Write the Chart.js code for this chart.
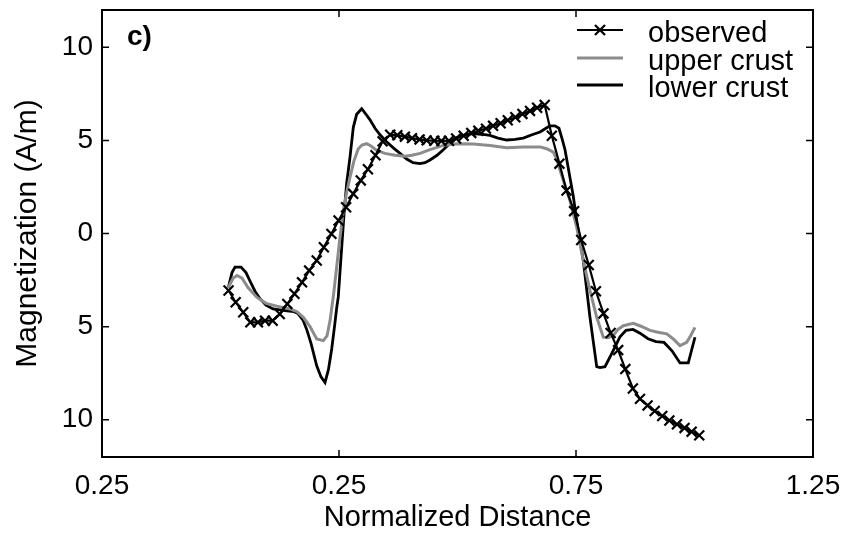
<!DOCTYPE html>
<html><head><meta charset="utf-8">
<script src="https://cdn.jsdelivr.net/npm/chart.js@4.4.0/dist/chart.umd.min.js"></script>
<style>html,body{margin:0;padding:0;background:#fff;}</style>
</head><body>
<canvas id="c" width="846" height="535"></canvas>
<script>
const seriesNames = ['observed', 'upper crust', 'lower crust'];
const panelLabel = 'c)';
const xTitle = 'Normalized Distance';
const yTitle = 'Magnetization (A/m)';
const xTickValues = [-0.25, 0.25, 0.75, 1.25];
const xTickLabels = ['0.25', '0.25', '0.75', '1.25'];
const yTickValues = [-10, -5, 0, 5, 10];
const yTickLabels = ['10', '5', '0', '5', '10'];

const obsX = [0.017,0.032,0.048,0.063,0.079,0.094,0.110,0.125,0.141,0.156,0.172,0.187,0.203,0.218,0.234,0.249,0.265,0.280,0.296,0.311,0.327,0.342,0.358,0.373,0.389,0.404,0.420,0.435,0.451,0.466,0.482,0.497,0.513,0.529,0.544,0.560,0.575,0.591,0.606,0.622,0.637,0.653,0.668,0.684,0.699,0.715,0.730,0.746,0.761,0.777,0.792,0.808,0.823,0.839,0.854,0.870,0.885,0.901,0.916,0.932,0.947,0.963,0.979,0.994,1.010];
const obsY = [-3.06,-3.69,-4.23,-4.77,-4.77,-4.68,-4.68,-4.32,-3.78,-3.24,-2.62,-1.99,-1.45,-0.74,-0.02,0.70,1.41,2.13,2.85,3.45,4.2,4.95,5.3,5.28,5.2,5.12,5.05,5.0,4.98,4.97,4.98,5.1,5.25,5.4,5.52,5.63,5.78,5.92,6.08,6.24,6.42,6.58,6.75,6.9,5.25,3.75,2.31,1.2,-0.35,-1.69,-3.1,-4.29,-5.34,-6.26,-7.28,-8.32,-8.88,-9.23,-9.53,-9.8,-10.04,-10.24,-10.44,-10.64,-10.84];

const upperX = [0.0165,0.0264,0.0348,0.0454,0.058,0.0764,0.096,0.1186,0.1466,0.1614,0.1747,0.1888,0.203,0.2169,0.2247,0.2311,0.2384,0.2451,0.2521,0.2591,0.2662,0.2732,0.2816,0.2907,0.2985,0.3084,0.3175,0.3295,0.347,0.3681,0.3892,0.404,0.4209,0.442,0.4701,0.4983,0.5333,0.5686,0.6038,0.6388,0.6741,0.6882,0.7021,0.7093,0.7162,0.7232,0.7373,0.7515,0.7654,0.7795,0.7937,0.8076,0.8175,0.8287,0.8386,0.8498,0.8709,0.8871,0.9061,0.923,0.9414,0.9546,0.9694,0.9835,0.9915,1.001];
const upperY = [-2.9,-2.4,-2.25,-2.4,-2.9,-3.42,-3.75,-3.9,-4.05,-4.2,-4.5,-5.0,-5.66,-5.75,-5.5,-4.68,-3.3,-1.8,-0.2,1.24,2.2,3.03,3.9,4.55,4.75,4.82,4.7,4.46,4.3,4.2,4.15,4.2,4.3,4.5,4.73,4.82,4.8,4.73,4.6,4.64,4.65,4.55,4.37,4.0,3.4,2.85,1.77,0.34,-1.45,-3.06,-4.5,-5.57,-5.6,-5.48,-5.15,-4.95,-4.82,-4.98,-5.2,-5.3,-5.39,-5.65,-6.02,-5.84,-5.5,-5.04];

const lowerX = [0.0165,0.0243,0.0306,0.0432,0.0538,0.0622,0.0728,0.0833,0.096,0.1108,0.1255,0.1403,0.1551,0.1635,0.1741,0.1825,0.191,0.203,0.212,0.2205,0.2278,0.2346,0.2405,0.2451,0.2485,0.2557,0.2605,0.2662,0.2732,0.2802,0.2873,0.2979,0.307,0.3154,0.326,0.3365,0.3492,0.3646,0.3787,0.3928,0.4061,0.4209,0.4315,0.442,0.4568,0.4701,0.4842,0.4983,0.5158,0.5333,0.5496,0.5686,0.5854,0.6038,0.6213,0.6388,0.6572,0.6741,0.6867,0.6951,0.7057,0.7141,0.7205,0.7268,0.7373,0.7443,0.7515,0.7654,0.7795,0.7937,0.8006,0.8112,0.8253,0.8428,0.8555,0.8703,0.885,0.9019,0.9188,0.9357,0.9525,0.9694,0.9869,1.001];
const lowerY = [-2.9,-2.1,-1.8,-1.8,-2.1,-2.55,-3.1,-3.5,-3.85,-4.05,-4.1,-4.15,-4.2,-4.3,-4.65,-5.2,-5.9,-7.1,-7.7,-8.0,-7.3,-6.2,-5.0,-4.0,-3.4,-0.74,1.0,2.7,4.1,5.7,6.4,6.7,6.4,6.1,5.65,5.3,4.95,4.6,4.3,4.0,3.8,3.75,3.8,3.95,4.2,4.5,4.85,5.15,5.3,5.36,5.33,5.27,5.12,5.02,5.05,5.12,5.3,5.45,5.65,5.78,5.78,5.65,5.1,4.5,3.0,2.0,0.7,-1.45,-4.5,-7.15,-7.2,-7.15,-6.45,-5.55,-5.2,-5.15,-5.35,-5.65,-5.8,-5.85,-6.3,-6.95,-6.95,-5.57];

const FONT = '"Liberation Sans", Arial, Helvetica, sans-serif';
Chart.defaults.font.family = FONT;
Chart.defaults.color = '#000';

const toPts = (xs, ys) => xs.map((x, i) => ({x: x, y: ys[i]}));

const decor = {
  id: 'decor',
  afterDraw(chart) {
    const {ctx, chartArea: a, scales: {x, y}} = chart;
    ctx.save();
    ctx.strokeStyle = '#000';
    ctx.lineWidth = 2;
    ctx.strokeRect(a.left, a.top, a.right - a.left, a.bottom - a.top);
    ctx.lineWidth = 1.5;
    ctx.beginPath();
    yTickValues.forEach(v => {
      const py = y.getPixelForValue(v);
      ctx.moveTo(a.left, py); ctx.lineTo(a.left + 7, py);
      ctx.moveTo(a.right, py); ctx.lineTo(a.right - 7, py);
    });
    xTickValues.forEach(v => {
      const px = x.getPixelForValue(v);
      ctx.moveTo(px, a.bottom); ctx.lineTo(px, a.bottom - 7);
      ctx.moveTo(px, a.top); ctx.lineTo(px, a.top + 7);
    });
    ctx.stroke();

    ctx.fillStyle = '#000';
    ctx.textBaseline = 'alphabetic';
    ctx.textAlign = 'left';
    ctx.font = 'bold 28px ' + FONT;
    ctx.fillText(panelLabel, a.left + 25, a.top + 35);

    // legend
    const ds = chart.data.datasets;
    const x0 = a.right - 236, x1 = a.right - 190, tx = a.right - 165;
    const baselines = [a.top + 32, a.top + 60, a.top + 87];
    ctx.font = '29px ' + FONT;
    ds.forEach((d, i) => {
      const ly = baselines[i] - 12;
      ctx.strokeStyle = d.borderColor;
      ctx.lineWidth = d.borderWidth;
      ctx.beginPath(); ctx.moveTo(x0, ly); ctx.lineTo(x1, ly); ctx.stroke();
      if (d.pointStyle === 'crossRot') {
        const cx = (x0 + x1) / 2, r = d.pointRadius * 0.72;
        ctx.lineWidth = d.pointBorderWidth;
        ctx.beginPath();
        ctx.moveTo(cx - r, ly - r); ctx.lineTo(cx + r, ly + r);
        ctx.moveTo(cx - r, ly + r); ctx.lineTo(cx + r, ly - r);
        ctx.stroke();
      }
      ctx.fillStyle = '#000';
      ctx.fillText(d.label, tx, baselines[i]);
    });
    ctx.restore();
  }
};

new Chart(document.getElementById('c'), {
  type: 'line',
  data: {
    datasets: [
      {label: seriesNames[0], data: toPts(obsX, obsY), borderColor: '#000', borderWidth: 2.2,
       pointStyle: 'crossRot', pointRadius: 7, pointBorderWidth: 2.2, pointBorderColor: '#000',
       pointBackgroundColor: '#000', tension: 0, fill: false},
      {label: seriesNames[1], data: toPts(upperX, upperY), borderColor: '#8c8c8c', borderWidth: 3,
       pointRadius: 0, tension: 0, fill: false},
      {label: seriesNames[2], data: toPts(lowerX, lowerY), borderColor: '#000', borderWidth: 2.8,
       pointRadius: 0, tension: 0, fill: false}
    ]
  },
  options: {
    responsive: false,
    animation: false,
    devicePixelRatio: 1,
    layout: {padding: {top: 10, right: 33, left: 0, bottom: 0}},
    plugins: {legend: {display: false}, tooltip: {enabled: false}},
    scales: {
      x: {
        type: 'linear', min: -0.25, max: 1.25,
        afterBuildTicks: s => { s.ticks = xTickValues.map(v => ({value: v})); },
        afterFit: s => { s.height = 78; s.paddingLeft = 0; s.paddingRight = 0; s.paddingTop = 0; s.paddingBottom = 0; },
        ticks: {callback: (v, i) => xTickLabels[i], font: {size: 28}, color: '#000', padding: 12, maxRotation: 0, autoSkip: false},
        grid: {display: false, drawTicks: false},
        border: {display: false},
        title: {display: true, text: xTitle, font: {size: 29}, color: '#000', padding: {top: 2, bottom: 0}}
      },
      y: {
        type: 'linear', min: -12, max: 12,
        afterBuildTicks: s => { s.ticks = yTickValues.map(v => ({value: v})); },
        afterFit: s => { s.width = 102; s.paddingLeft = 0; s.paddingRight = 0; s.paddingTop = 0; s.paddingBottom = 0; },
        ticks: {callback: (v, i) => yTickLabels[i], font: {size: 28}, color: '#000', padding: 9, autoSkip: false},
        grid: {display: false, drawTicks: false},
        border: {display: false},
        title: {display: true, text: yTitle, font: {size: 30}, color: '#000', padding: {top: 10, bottom: 0}}
      }
    }
  },
  plugins: [decor]
});
</script>
</body></html>
